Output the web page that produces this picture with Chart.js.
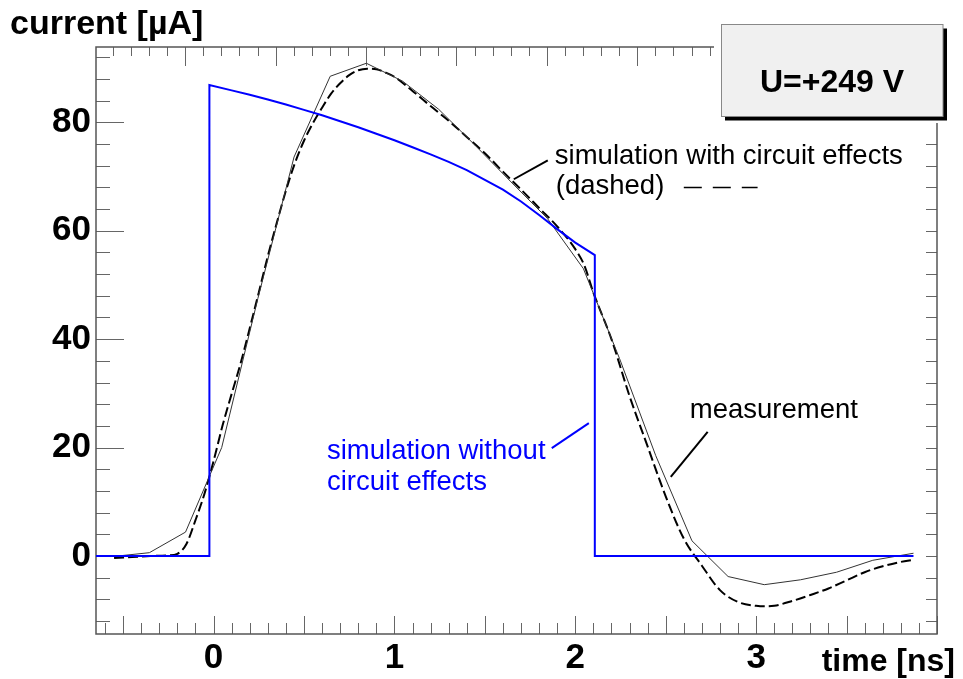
<!DOCTYPE html>
<html>
<head>
<meta charset="utf-8">
<script src="https://cdn.jsdelivr.net/npm/chart.js@4.4.1/dist/chart.umd.min.js"></script>
<style>
  html, body { margin: 0; padding: 0; background: #ffffff; }
  #wrap { width: 963px; height: 679px; position: relative; }
</style>
</head>
<body>
<div id="wrap"><canvas id="c" width="963" height="679"></canvas></div>
<script>
// ---- measured current pulse (scope samples, 0.2 ns apart) ----
const measTime = [-0.555, -0.355, -0.155, 0.045, 0.245, 0.445, 0.645, 0.845, 1.045, 1.245,
                  1.445, 1.645, 1.845, 2.045, 2.245, 2.445, 2.645, 2.845, 3.045, 3.245,
                  3.445, 3.645, 3.87];
const measCurrent = [-0.1, 0.6, 4.4, 20.0, 47.5, 73.6, 88.5, 90.9, 87.6, 82.4,
                     75.8, 69.0, 62.3, 53.0, 36.4, 18.5, 2.8, -3.8, -5.3, -4.4,
                     -3.0, -0.8, 0.5];

// ---- simulation including the readout circuit (dashed) ----
const simCircTime = [-0.55, -0.45, -0.35, -0.25, -0.2, -0.15, -0.1, -0.05, 0, 0.05,
                     0.1, 0.15, 0.2, 0.25, 0.3, 0.35, 0.4, 0.45, 0.5, 0.55,
                     0.6, 0.65, 0.7, 0.75, 0.8, 0.85, 0.9, 0.95, 1.0, 1.1,
                     1.2, 1.3, 1.4, 1.5, 1.6, 1.7, 1.8, 1.9, 2.0, 2.05,
                     2.1, 2.2, 2.3, 2.4, 2.5, 2.6, 2.7, 2.8, 2.9, 3.0,
                     3.05, 3.1, 3.2, 3.3, 3.4, 3.5, 3.6, 3.7, 3.8, 3.87];
const simCircCurrent = [-0.4, -0.2, 0.0, 0.1, 0.4, 2.2, 6.6, 11.5, 17.5, 24.1,
                        29.9, 35.6, 42.0, 48.6, 55.3, 61.5, 67.4, 72.5, 76.6, 79.9,
                        82.7, 85.3, 87.2, 88.7, 89.6, 89.9, 89.8, 89.2, 88.4, 85.8,
                        83.0, 80.3, 77.3, 74.3, 70.9, 67.6, 64.2, 60.8, 56.6, 53.6,
                        48.6, 40.0, 29.5, 20.2, 11.0, 3.2, -1.8, -6.3, -8.5, -9.2,
                        -9.3, -9.2, -8.3, -7.2, -6.0, -4.5, -3.0, -1.9, -1.1, -0.7];

// ---- simulation without circuit effects (blue, induced current only) ----
const simIdealTime = [-0.65, -0.023, -0.023, 0.1, 0.2, 0.3, 0.4, 0.5, 0.6, 0.7,
                      0.8, 0.9, 1.0, 1.1, 1.2, 1.3, 1.4, 1.5, 1.6, 1.7,
                      1.8, 1.9, 2.0, 2.108, 2.108, 3.87];
const simIdealCurrent = [0, 0, 86.9, 85.9, 85.1, 84.2, 83.3, 82.3, 81.3, 80.2,
                         79.1, 77.9, 76.7, 75.4, 74.1, 72.7, 71.2, 69.4, 67.6, 65.4,
                         62.9, 60.3, 57.8, 55.5, 0, 0];

// ---- axes ----
const xTickValues = [0, 1, 2, 3];
const xTickLabels = ['0', '1', '2', '3'];
const yTickValues = [0, 20, 40, 60, 80];
const yTickLabels = ['0', '20', '40', '60', '80'];
const xRange = [-0.65, 4.0];
const yRange = [-14.4, 93.9];
const topAxisShift = 0.157;   // the upper tick scale follows the scope sampling grid

const yTitle = 'current [µA]';
const xTitle = 'time [ns]';
const voltageLabel = 'U=+249 V';

const FONT = '"Liberation Sans", Arial, Helvetica, sans-serif';
const BLUE = '#0000ff';

function pts(xs, ys) { return xs.map((t, i) => ({ x: t, y: ys[i] })); }

// frame with inward ticks on all four sides
const frameTicks = {
  id: 'frameTicks',
  beforeDatasetsDraw(chart) {
    const { ctx, chartArea: a, scales: { x, y } } = chart;
    ctx.save();
    ctx.strokeStyle = '#666';
    ctx.lineWidth = 1;
    ctx.beginPath();
    // bottom: 0.1 ns minor ticks, longer every 0.5 ns
    for (let k = Math.ceil(x.min * 10); k <= Math.floor(x.max * 10); k++) {
      const px = Math.round(x.getPixelForValue(k / 10)) + 0.5;
      const len = (k % 5 === 0) ? 18 : 11;
      ctx.moveTo(px, a.bottom); ctx.lineTo(px, a.bottom - len);
    }
    // top: same spacing, shifted grid
    for (let k = Math.ceil((x.min + topAxisShift) * 10); k <= Math.floor((x.max + topAxisShift) * 10); k++) {
      const px = Math.round(x.getPixelForValue(k / 10 - topAxisShift)) + 0.5;
      const len = (k % 5 === 0) ? 19 : 9;
      ctx.moveTo(px, a.top); ctx.lineTo(px, a.top + len);
    }
    // left and right: 4 µA minor ticks, long at every 20 µA on the left
    for (let v = Math.ceil(y.min / 4) * 4; v <= y.max; v += 4) {
      const py = Math.round(y.getPixelForValue(v)) + 0.5;
      const len = (v % 20 === 0) ? 28 : 14;
      ctx.moveTo(a.left, py); ctx.lineTo(a.left + len, py);
      ctx.moveTo(a.right, py); ctx.lineTo(a.right - 11, py);
    }
    ctx.stroke();
    ctx.strokeStyle = '#555';
    ctx.lineWidth = 1.5;
    ctx.strokeRect(a.left, a.top, a.right - a.left, a.bottom - a.top);
    ctx.restore();
  },
  afterDraw(chart) {
    const { ctx, scales: { x, y } } = chart;
    const P = (t, v) => [x.getPixelForValue(t), y.getPixelForValue(v)];
    ctx.save();

    // axis titles
    ctx.fillStyle = '#000';
    ctx.font = 'bold 34px ' + FONT;
    ctx.textAlign = 'left';
    ctx.textBaseline = 'alphabetic';
    ctx.fillText(yTitle, 10, 34);
    ctx.font = 'bold 32px ' + FONT;
    ctx.textAlign = 'right';
    ctx.fillText(xTitle, 955, 671);

    // voltage box with drop shadow
    ctx.fillStyle = '#ffffff';
    ctx.fillRect(714, 0, 249, 123);
    ctx.fillStyle = '#000';
    ctx.fillRect(725, 28.5, 222, 92);
    ctx.fillStyle = '#f0f0f0';
    ctx.fillRect(721, 24.5, 222, 92);
    ctx.strokeStyle = '#888';
    ctx.lineWidth = 1;
    ctx.strokeRect(721.5, 24.5, 221.5, 92);
    ctx.fillStyle = '#000';
    ctx.font = 'bold 32px ' + FONT;
    ctx.textAlign = 'center';
    ctx.fillText(voltageLabel, 832, 91.5);

    // curve annotations
    ctx.textAlign = 'left';
    ctx.font = '27.5px ' + FONT;
    let p = P(1.887, 72.4); ctx.fillText('simulation with circuit effects', p[0], p[1]);
    p = P(1.892, 66.7); ctx.fillText('(dashed)', p[0], p[1]);
    p = P(2.633, 25.4); ctx.fillText('measurement', p[0], p[1]);
    ctx.fillStyle = BLUE;
    p = P(0.627, 17.9); ctx.fillText('simulation without', p[0], p[1]);
    p = P(0.627, 12.2); ctx.fillText('circuit effects', p[0], p[1]);

    // leader lines
    ctx.lineWidth = 2;
    ctx.strokeStyle = '#000';
    const seg = (t1, v1, t2, v2) => {
      const a = P(t1, v1), b = P(t2, v2);
      ctx.beginPath(); ctx.moveTo(a[0], a[1]); ctx.lineTo(b[0], b[1]); ctx.stroke();
    };
    seg(1.848, 73.0, 1.660, 69.5);
    seg(2.732, 22.9, 2.528, 14.6);
    ctx.strokeStyle = BLUE;
    seg(1.870, 19.9, 2.075, 24.5);

    // dashed line sample next to "(dashed)"
    ctx.strokeStyle = '#000';
    ctx.lineWidth = 1.5;
    ctx.setLineDash([18, 11]);
    seg(2.600, 68.0, 3.008, 68.0);
    ctx.setLineDash([]);
    ctx.restore();
  }
};

new Chart(document.getElementById('c'), {
  type: 'line',
  data: {
    datasets: [
      {
        label: 'simulation without circuit effects',
        data: pts(simIdealTime, simIdealCurrent),
        borderColor: BLUE, borderWidth: 2, pointRadius: 0, tension: 0
      },
      {
        label: 'measurement',
        data: pts(measTime, measCurrent),
        borderColor: '#333333', borderWidth: 1, pointRadius: 0, tension: 0
      },
      {
        label: 'simulation with circuit effects',
        data: pts(simCircTime, simCircCurrent),
        borderColor: '#000000', borderWidth: 2, borderDash: [10, 4],
        pointRadius: 0, cubicInterpolationMode: 'monotone'
      }
    ]
  },
  options: {
    responsive: false,
    animation: false,
    devicePixelRatio: 1,
    layout: { padding: { left: 0, right: 26, top: 47, bottom: 0 } },
    plugins: { legend: { display: false }, tooltip: { enabled: false }, title: { display: false } },
    scales: {
      x: {
        type: 'linear', min: xRange[0], max: xRange[1],
        grid: { display: false, drawTicks: false },
        border: { display: false },
        afterBuildTicks: s => { s.ticks = xTickValues.map(v => ({ value: v })); },
        afterFit: s => { s.height = 45; },
        ticks: {
          padding: 3, color: '#000', maxRotation: 0,
          font: { family: FONT, size: 35, weight: 'bold' },
          callback: (v, i) => xTickLabels[i]
        }
      },
      y: {
        type: 'linear', min: yRange[0], max: yRange[1],
        grid: { display: false, drawTicks: false },
        border: { display: false },
        afterBuildTicks: s => { s.ticks = yTickValues.map(v => ({ value: v })); },
        afterFit: s => { s.width = 96; },
        ticks: {
          padding: 5, color: '#000',
          font: { family: FONT, size: 35, weight: 'bold' },
          callback: (v, i) => yTickLabels[i]
        }
      }
    }
  },
  plugins: [frameTicks]
});
</script>
</body>
</html>
